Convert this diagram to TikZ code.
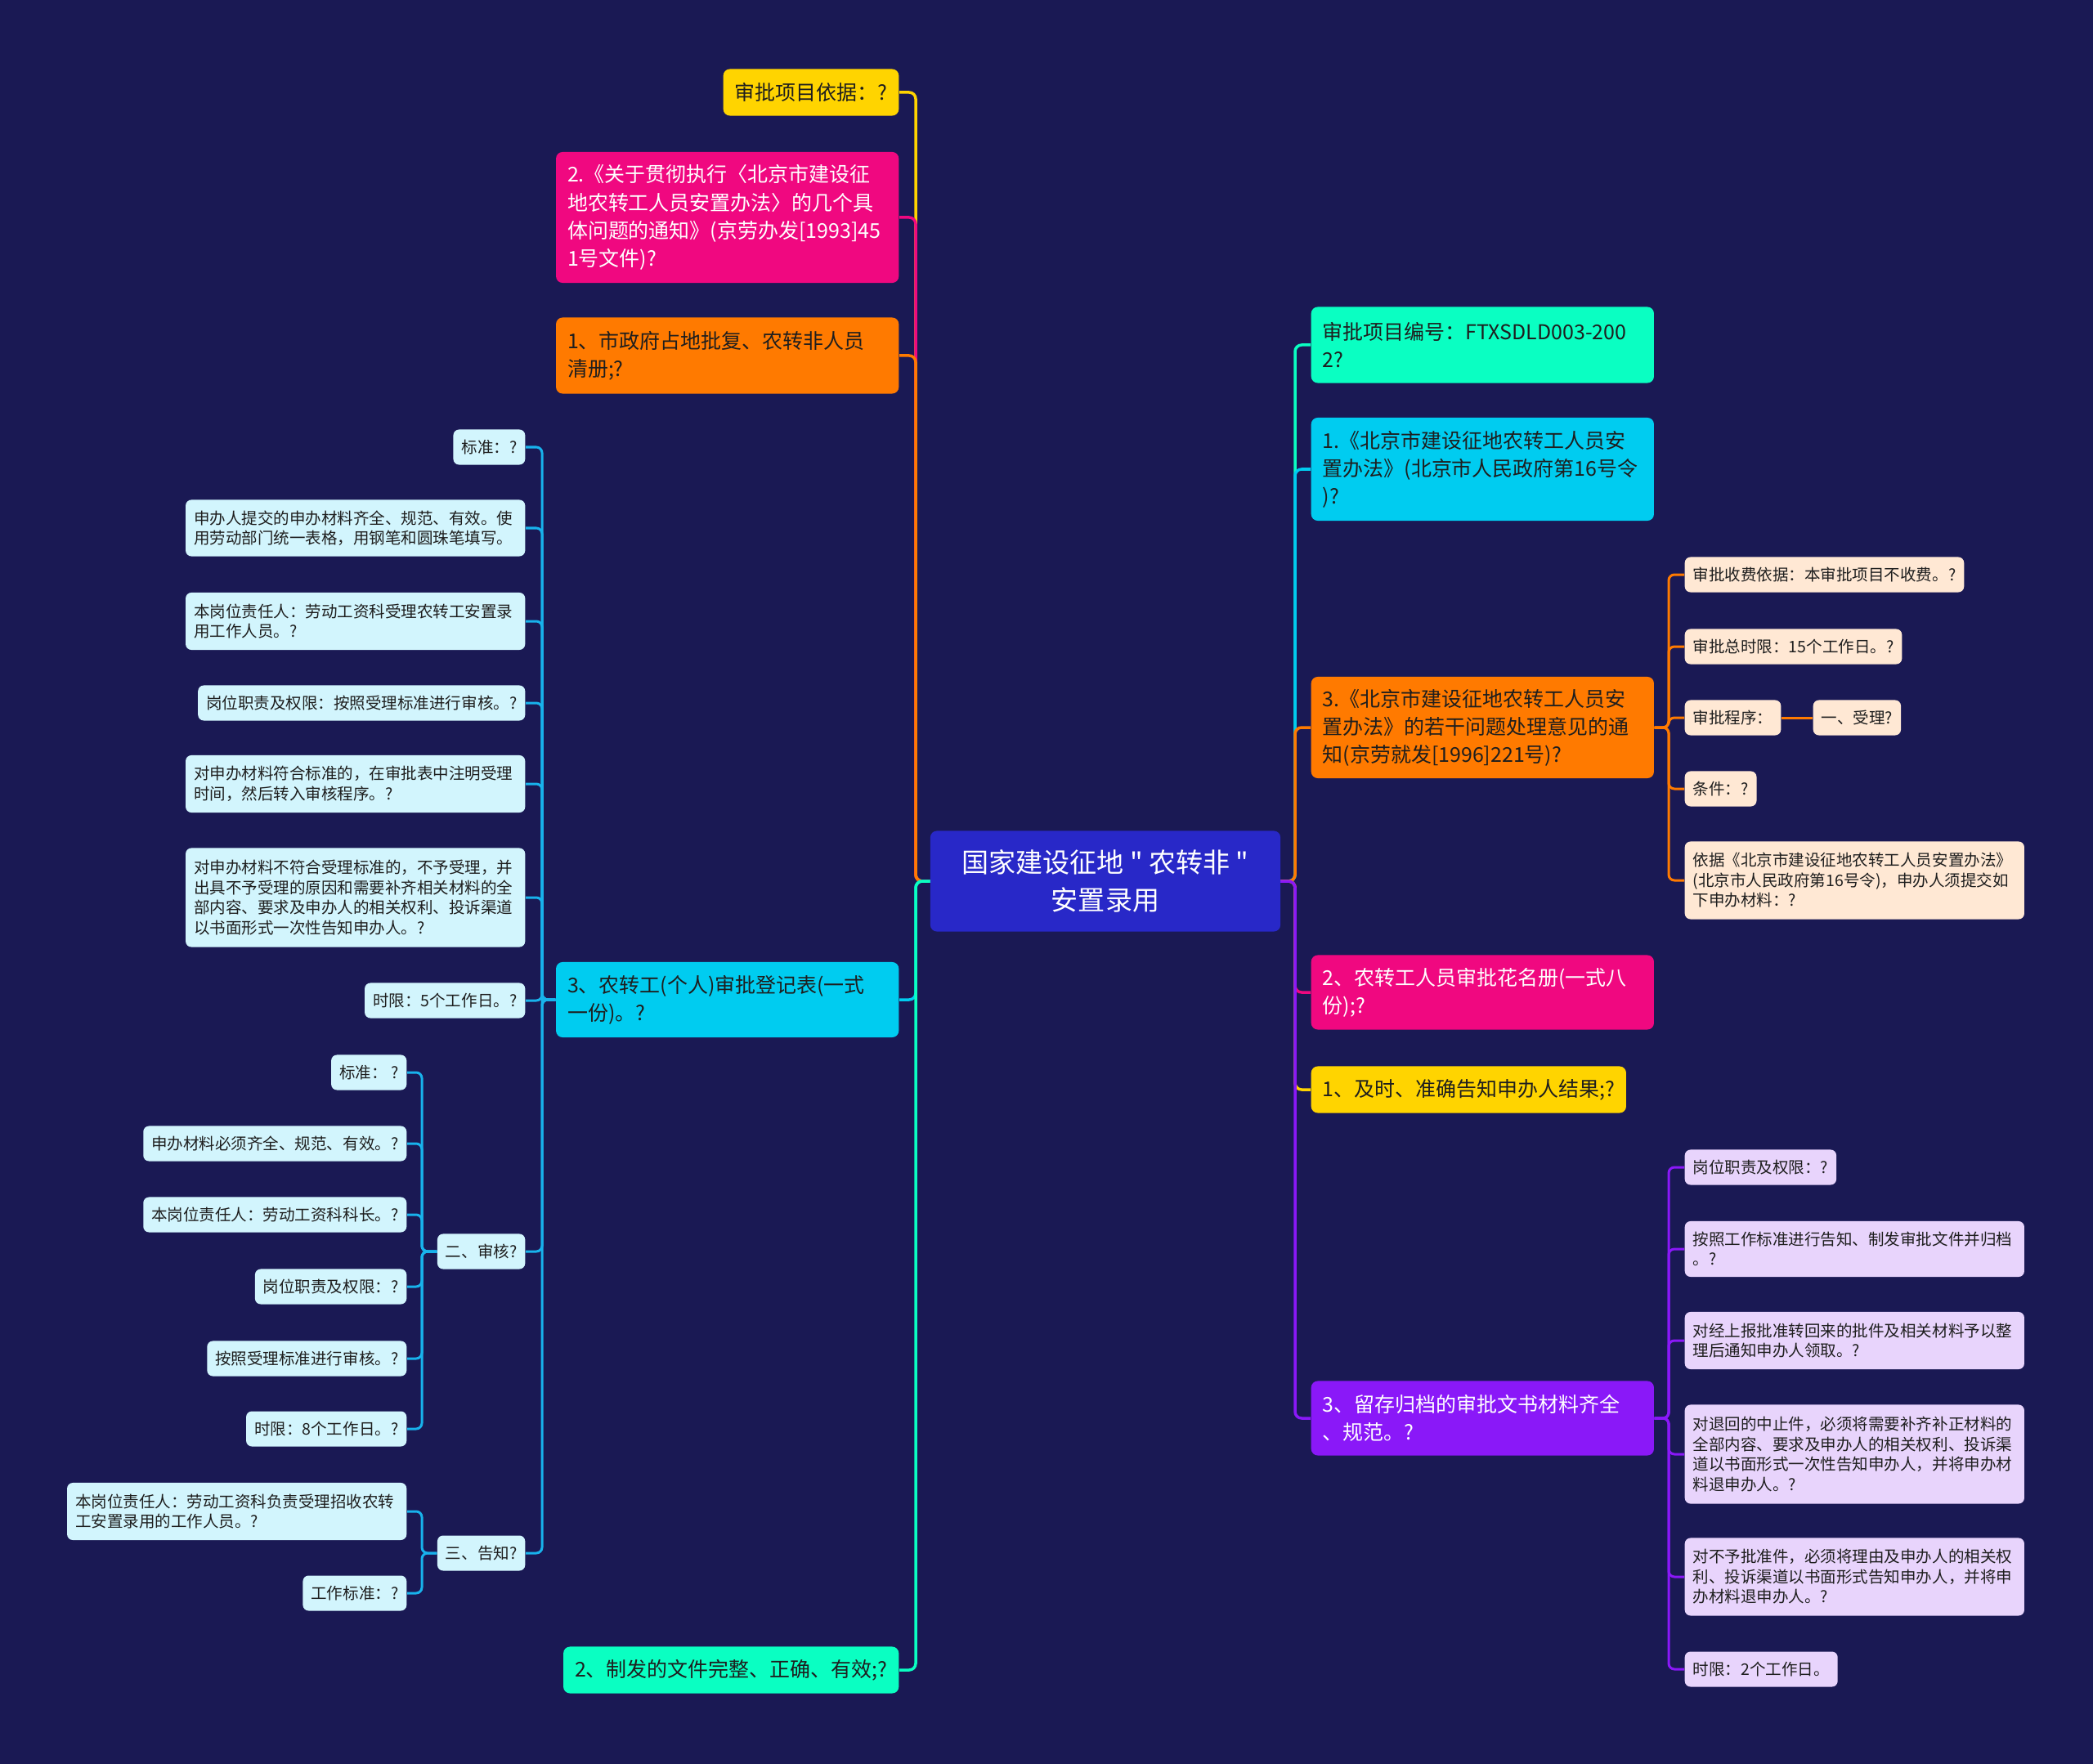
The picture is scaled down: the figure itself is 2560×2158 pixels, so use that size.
\documentclass[tikz,border=0pt]{standalone}
\usepackage{fontspec}
\setmainfont{Noto Sans CJK SC}[Ligatures=TeXOff]
\usetikzlibrary{calc}
\definecolor{figbg}{RGB}{26,25,84}
\definecolor{rootfill}{RGB}{40,40,200}
\definecolor{cyel}{RGB}{255,212,0}
\definecolor{cpink}{RGB}{240,8,128}
\definecolor{corg}{RGB}{255,122,0}
\definecolor{ccyan}{RGB}{0,204,240}
\definecolor{cgrn}{RGB}{10,255,194}
\definecolor{cpur}{RGB}{138,24,248}
\definecolor{lcyan}{RGB}{210,245,253}
\definecolor{lorg}{RGB}{255,232,212}
\definecolor{lpur}{RGB}{232,212,252}
\definecolor{lcyanln}{RGB}{24,178,236}
\definecolor{txtdark}{RGB}{30,30,30}
\pgfdeclarelayer{back}
\pgfsetlayers{back,main}
\tikzset{
  bra/.style ={rounded corners=0.08cm, inner xsep=0.14cm, inner ysep=0.05cm, align=left,
               font=\fontsize{7.1pt}{9.7pt}\selectfont, text=txtdark},
  bw/.style  ={text width=3.91cm},
  lf/.style  ={rounded corners=0.07cm, inner xsep=0.10cm, inner ysep=0.04cm, align=left,
               font=\fontsize{5.55pt}{6.97pt}\selectfont, text=txtdark, minimum height=0.43cm},
  lw/.style  ={text width=3.95cm},
  lnk/.style ={draw=#1, line width=0.035cm, rounded corners=0.08cm},
  lnks/.style={draw=#1, line width=0.03cm, rounded corners=0.07cm},
}

\begin{document}
\begin{tikzpicture}[x=0.01cm,y=-0.01cm]
  \useasboundingbox (0,0) rectangle (2560,2158);
  \begin{pgfonlayer}{back}
    \fill[figbg] (0,0) rectangle (2560,2158);
  \end{pgfonlayer}

  % centre
  \node[bra, fill=rootfill, text=white, align=center, minimum width=4.28cm, minimum height=1.23cm,
        font=\fontsize{9.4pt}{13.1pt}\selectfont] (root) at (1352,1078) {国家建设征地 " 农转非 "\\安置录用};

  % left branches
  \node[bra, fill=cyel, anchor=east, minimum height=0.57cm] (lb1) at (1100,113) {审批项目依据：?};
  \node[bra, bw, fill=cpink, text=white, anchor=east, minimum height=1.60cm] (lb2) at (1100,266)
    {2.《关于贯彻执行〈北京市建设征\\地农转工人员安置办法〉的几个具\\体问题的通知》(京劳办发[1993]45\\1号文件)?};
  \node[bra, bw, fill=corg, anchor=east, minimum height=0.93cm] (lb3) at (1100,435) {1、市政府占地批复、农转非人员\\清册;?};
  \node[bra, bw, fill=ccyan, anchor=east, minimum height=0.92cm] (lb4) at (1100,1223) {3、农转工(个人)审批登记表(一式\\一份)。?};
  \node[bra, fill=cgrn, anchor=east, minimum height=0.57cm] (lb5) at (1100,2043) {2、制发的文件完整、正确、有效;?};

  % right branches
  \node[bra, bw, fill=cgrn, anchor=west, minimum height=0.93cm] (rb1) at (1603,422) {审批项目编号：FTXSDLD003-200\\2?};
  \node[bra, bw, fill=ccyan, anchor=west, minimum height=1.26cm] (rb2) at (1603,574)
    {1.《北京市建设征地农转工人员安\\置办法》(北京市人民政府第16号令\\)?};
  \node[bra, bw, fill=corg, anchor=west, minimum height=1.24cm] (rb3) at (1603,890)
    {3.《北京市建设征地农转工人员安\\置办法》的若干问题处理意见的通\\知(京劳就发[1996]221号)?};
  \node[bra, bw, fill=cpink, text=white, anchor=west, minimum height=0.91cm] (rb4) at (1603,1214) {2、农转工人员审批花名册(一式八\\份);?};
  \node[bra, fill=cyel, anchor=west, minimum height=0.57cm] (rb5) at (1603,1333) {1、及时、准确告知申办人结果;?};
  \node[bra, bw, fill=cpur, text=white, anchor=west, minimum height=0.91cm] (rb6) at (1603,1735) {3、留存归档的审批文书材料齐全\\、规范。?};

  % leaves of rb3
  \node[lf, fill=lorg, anchor=west] (ro1) at (2060,703) {审批收费依据：本审批项目不收费。?};
  \node[lf, fill=lorg, anchor=west] (ro2) at (2060,791) {审批总时限：15个工作日。?};
  \node[lf, fill=lorg, anchor=west] (ro3) at (2060,878) {审批程序：};
  \node[lf, fill=lorg, anchor=west] (ro3a) at (2217,878) {一、受理?};
  \node[lf, fill=lorg, anchor=west] (ro4) at (2060,965) {条件：?};
  \node[lf, lw, fill=lorg, anchor=west, minimum height=0.95cm] (ro5) at (2060,1077)
    {依据《北京市建设征地农转工人员安置办法》\\(北京市人民政府第16号令)，申办人须提交如\\下申办材料：?};

  % leaves of rb6
  \node[lf, fill=lpur, anchor=west] (rp1) at (2060,1428) {岗位职责及权限：?};
  \node[lf, lw, fill=lpur, anchor=west, minimum height=0.68cm] (rp2) at (2060,1528) {按照工作标准进行告知、制发审批文件并归档\\。?};
  \node[lf, lw, fill=lpur, anchor=west, minimum height=0.70cm] (rp3) at (2060,1640) {对经上报批准转回来的批件及相关材料予以整\\理后通知申办人领取。?};
  \node[lf, lw, fill=lpur, anchor=west, minimum height=1.21cm] (rp4) at (2060,1779)
    {对退回的中止件，必须将需要补齐补正材料的\\全部内容、要求及申办人的相关权利、投诉渠\\道以书面形式一次性告知申办人，并将申办材\\料退申办人。?};
  \node[lf, lw, fill=lpur, anchor=west, minimum height=0.95cm] (rp5) at (2060,1929)
    {对不予批准件，必须将理由及申办人的相关权\\利、投诉渠道以书面形式告知申办人，并将申\\办材料退申办人。?};
  \node[lf, fill=lpur, anchor=west] (rp6) at (2060,2042) {时限：2个工作日。};

  % leaves of lb4
  \node[lf, fill=lcyan, anchor=east] (lc1) at (643,547) {标准：?};
  \node[lf, lw, fill=lcyan, anchor=east, minimum height=0.69cm] (lc2) at (643,646) {申办人提交的申办材料齐全、规范、有效。使\\用劳动部门统一表格，用钢笔和圆珠笔填写。};
  \node[lf, lw, fill=lcyan, anchor=east, minimum height=0.70cm] (lc3) at (643,760) {本岗位责任人：劳动工资科受理农转工安置录\\用工作人员。?};
  \node[lf, fill=lcyan, anchor=east] (lc4) at (643,860) {岗位职责及权限：按照受理标准进行审核。?};
  \node[lf, lw, fill=lcyan, anchor=east, minimum height=0.70cm] (lc5) at (643,959) {对申办材料符合标准的，在审批表中注明受理\\时间，然后转入审核程序。?};
  \node[lf, lw, fill=lcyan, anchor=east, minimum height=1.21cm] (lc6) at (643,1098)
    {对申办材料不符合受理标准的，不予受理，并\\出具不予受理的原因和需要补齐相关材料的全\\部内容、要求及申办人的相关权利、投诉渠道\\以书面形式一次性告知申办人。?};
  \node[lf, fill=lcyan, anchor=east] (lc7) at (643,1224) {时限：5个工作日。?};
  \node[lf, fill=lcyan, anchor=east] (lc8) at (643,1531) {二、审核?};
  \node[lf, fill=lcyan, anchor=east] (lc9) at (643,1900) {三、告知?};

  % leaves of lc8
  \node[lf, fill=lcyan, anchor=east] (la1) at (498,1312) {标准：\ ?};
  \node[lf, fill=lcyan, anchor=east] (la2) at (498,1399) {申办材料必须齐全、规范、有效。?};
  \node[lf, fill=lcyan, anchor=east] (la3) at (498,1486) {本岗位责任人：劳动工资科科长。?};
  \node[lf, fill=lcyan, anchor=east] (la4) at (498,1574) {岗位职责及权限：?};
  \node[lf, fill=lcyan, anchor=east] (la5) at (498,1662) {按照受理标准进行审核。?};
  \node[lf, fill=lcyan, anchor=east] (la6) at (498,1748) {时限：8个工作日。?};

  % leaves of lc9
  \node[lf, lw, fill=lcyan, anchor=east, minimum height=0.70cm] (lt1) at (498,1849) {本岗位责任人：劳动工资科负责受理招收农转\\工安置录用的工作人员。?};
  \node[lf, fill=lcyan, anchor=east] (lt2) at (498,1949) {工作标准：?};

  \begin{pgfonlayer}{back}
    % centre to branches
    \draw[lnk=cyel]  (root.center) -| ($(lb1.east)+(20,0)$) -- (lb1.east);
    \draw[lnk=cpink] (root.center) -| ($(lb2.east)+(20,0)$) -- (lb2.east);
    \draw[lnk=corg]  (root.center) -| ($(lb3.east)+(20,0)$) -- (lb3.east);
    \draw[lnk=ccyan] (root.center) -| ($(lb4.east)+(20,0)$) -- (lb4.east);
    \draw[lnk=cgrn]  (root.center) -| ($(lb5.east)+(20,0)$) -- (lb5.east);
    \draw[lnk=cgrn]  (root.center) -| ($(rb1.west)+(-19,0)$) -- (rb1.west);
    \draw[lnk=ccyan] (root.center) -| ($(rb2.west)+(-19,0)$) -- (rb2.west);
    \draw[lnk=corg]  (root.center) -| ($(rb3.west)+(-19,0)$) -- (rb3.west);
    \draw[lnk=cpink] (root.center) -| ($(rb4.west)+(-19,0)$) -- (rb4.west);
    \draw[lnk=cyel]  (root.center) -| ($(rb5.west)+(-19,0)$) -- (rb5.west);
    \draw[lnk=cpur]  (root.center) -| ($(rb6.west)+(-19,0)$) -- (rb6.west);
    % rb3 leaves
    \draw[lnks=corg] (rb3.east) -| ($(ro1.west)+(-19,0)$) -- (ro1.west);
    \draw[lnks=corg] (rb3.east) -| ($(ro2.west)+(-19,0)$) -- (ro2.west);
    \draw[lnks=corg] (rb3.east) -| ($(ro3.west)+(-19,0)$) -- (ro3.west);
    \draw[lnks=corg] (rb3.east) -| ($(ro4.west)+(-19,0)$) -- (ro4.west);
    \draw[lnks=corg] (rb3.east) -| ($(ro5.west)+(-19,0)$) -- (ro5.west);
    \draw[lnks=corg] (ro3.east) -- (ro3a.west);
    % rb6 leaves
    \draw[lnks=cpur] (rb6.east) -| ($(rp1.west)+(-19,0)$) -- (rp1.west);
    \draw[lnks=cpur] (rb6.east) -| ($(rp2.west)+(-19,0)$) -- (rp2.west);
    \draw[lnks=cpur] (rb6.east) -| ($(rp3.west)+(-19,0)$) -- (rp3.west);
    \draw[lnks=cpur] (rb6.east) -| ($(rp4.west)+(-19,0)$) -- (rp4.west);
    \draw[lnks=cpur] (rb6.east) -| ($(rp5.west)+(-19,0)$) -- (rp5.west);
    \draw[lnks=cpur] (rb6.east) -| ($(rp6.west)+(-19,0)$) -- (rp6.west);
    % lb4 leaves
    \draw[lnks=lcyanln] (lb4.west) -| ($(lc1.east)+(20,0)$) -- (lc1.east);
    \draw[lnks=lcyanln] (lb4.west) -| ($(lc2.east)+(20,0)$) -- (lc2.east);
    \draw[lnks=lcyanln] (lb4.west) -| ($(lc3.east)+(20,0)$) -- (lc3.east);
    \draw[lnks=lcyanln] (lb4.west) -| ($(lc4.east)+(20,0)$) -- (lc4.east);
    \draw[lnks=lcyanln] (lb4.west) -| ($(lc5.east)+(20,0)$) -- (lc5.east);
    \draw[lnks=lcyanln] (lb4.west) -| ($(lc6.east)+(20,0)$) -- (lc6.east);
    \draw[lnks=lcyanln] (lb4.west) -| ($(lc7.east)+(20,0)$) -- (lc7.east);
    \draw[lnks=lcyanln] (lb4.west) -| ($(lc8.east)+(20,0)$) -- (lc8.east);
    \draw[lnks=lcyanln] (lb4.west) -| ($(lc9.east)+(20,0)$) -- (lc9.east);
    % lc8 leaves
    \draw[lnks=lcyanln] (lc8.west) -| ($(la1.east)+(18,0)$) -- (la1.east);
    \draw[lnks=lcyanln] (lc8.west) -| ($(la2.east)+(18,0)$) -- (la2.east);
    \draw[lnks=lcyanln] (lc8.west) -| ($(la3.east)+(18,0)$) -- (la3.east);
    \draw[lnks=lcyanln] (lc8.west) -| ($(la4.east)+(18,0)$) -- (la4.east);
    \draw[lnks=lcyanln] (lc8.west) -| ($(la5.east)+(18,0)$) -- (la5.east);
    \draw[lnks=lcyanln] (lc8.west) -| ($(la6.east)+(18,0)$) -- (la6.east);
    % lc9 leaves
    \draw[lnks=lcyanln] (lc9.west) -| ($(lt1.east)+(18,0)$) -- (lt1.east);
    \draw[lnks=lcyanln] (lc9.west) -| ($(lt2.east)+(18,0)$) -- (lt2.east);
  \end{pgfonlayer}
\end{tikzpicture}
\end{document}
